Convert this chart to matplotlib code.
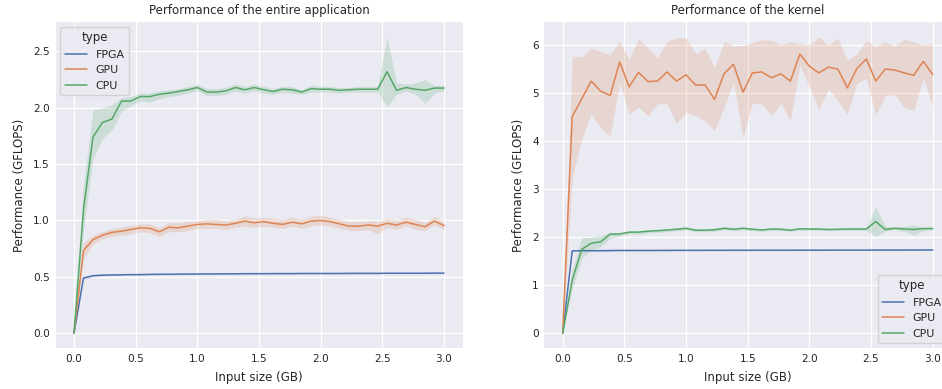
import matplotlib
matplotlib.use("Agg")
import matplotlib.pyplot as plt
import seaborn as sns

sns.set_theme(style="darkgrid")
plt.rcParams['font.family'] = ['DejaVu Sans']

# Input sizes (GB)
input_size = [0.0, 0.077, 0.154, 0.231, 0.308, 0.385, 0.462, 0.538, 0.615, 0.692,
              0.769, 0.846, 0.923, 1.0, 1.077, 1.154, 1.231, 1.308, 1.385, 1.462,
              1.538, 1.615, 1.692, 1.769, 1.846, 1.923, 2.0, 2.077, 2.154, 2.231,
              2.308, 2.385, 2.462, 2.538, 2.615, 2.692, 2.769, 2.846, 2.923, 3.0]

types = ["FPGA", "GPU", "CPU"]
colors = ["#4C72B0", "#DD8452", "#55A868"]

# ---- CPU (same measurements in both panels) ----
cpu_mean = [0, 1.10, 1.74, 1.87, 1.90, 2.06, 2.06, 2.10, 2.10, 2.12,
            2.13, 2.145, 2.16, 2.18, 2.14, 2.14, 2.15, 2.18, 2.16, 2.18,
            2.16, 2.145, 2.165, 2.16, 2.14, 2.17, 2.165, 2.165, 2.155, 2.16,
            2.165, 2.165, 2.165, 2.32, 2.155, 2.18, 2.165, 2.155, 2.175, 2.175]
cpu_low = [0, 0.92, 1.55, 1.73, 1.80, 1.97, 2.02, 2.06, 2.05, 2.08,
           2.10, 2.11, 2.13, 2.15, 2.11, 2.11, 2.12, 2.15, 2.13, 2.15,
           2.13, 2.12, 2.14, 2.13, 2.12, 2.14, 2.14, 2.14, 2.13, 2.14,
           2.14, 2.14, 2.14, 2.01, 2.12, 2.15, 2.12, 2.04, 2.13, 2.15]
cpu_high = [0, 1.32, 1.98, 2.00, 2.03, 2.09, 2.10, 2.13, 2.13, 2.15,
            2.16, 2.17, 2.19, 2.21, 2.17, 2.17, 2.18, 2.21, 2.19, 2.21,
            2.19, 2.17, 2.19, 2.19, 2.16, 2.20, 2.19, 2.19, 2.18, 2.18,
            2.19, 2.19, 2.19, 2.63, 2.22, 2.21, 2.22, 2.25, 2.20, 2.20]

# ---- Entire application: GPU / FPGA ----
app_gpu_mean = [0, 0.735, 0.83, 0.87, 0.895, 0.905, 0.92, 0.935, 0.93, 0.90,
                0.94, 0.935, 0.95, 0.965, 0.97, 0.965, 0.96, 0.975, 0.995, 0.98,
                0.99, 0.975, 0.965, 0.985, 0.97, 0.995, 1.0, 0.99, 0.97, 0.95,
                0.95, 0.96, 0.95, 0.975, 0.96, 0.985, 0.965, 0.945, 0.995, 0.955]
app_gpu_low = [0, 0.66, 0.79, 0.84, 0.86, 0.87, 0.88, 0.90, 0.89, 0.86,
               0.90, 0.90, 0.91, 0.93, 0.93, 0.93, 0.92, 0.94, 0.95, 0.94,
               0.95, 0.94, 0.93, 0.95, 0.93, 0.95, 0.96, 0.95, 0.93, 0.91,
               0.91, 0.92, 0.88, 0.94, 0.92, 0.95, 0.92, 0.91, 0.96, 0.92]
app_gpu_high = [0, 0.80, 0.87, 0.90, 0.93, 0.94, 0.96, 0.97, 0.97, 0.94,
                0.98, 0.98, 0.99, 1.00, 1.01, 1.01, 1.00, 1.01, 1.04, 1.02,
                1.03, 1.02, 1.01, 1.03, 1.01, 1.04, 1.05, 1.03, 1.01, 0.99,
                0.99, 1.00, 0.99, 1.02, 1.00, 1.03, 1.01, 0.98, 1.04, 0.99]
app_fpga_mean = [0, 0.49, 0.51, 0.515, 0.517, 0.518, 0.52, 0.52, 0.522, 0.523,
                 0.523, 0.524, 0.525, 0.525, 0.526, 0.526, 0.527, 0.527, 0.528, 0.528,
                 0.528, 0.529, 0.529, 0.529, 0.53, 0.53, 0.53, 0.53, 0.53, 0.531,
                 0.531, 0.531, 0.531, 0.532, 0.532, 0.532, 0.532, 0.532, 0.533, 0.533]
app_fpga_low = [0, 0.475, 0.50, 0.508, 0.511, 0.512, 0.514, 0.515, 0.516, 0.517,
                0.518, 0.519, 0.52, 0.52, 0.521, 0.521, 0.522, 0.522, 0.523, 0.523,
                0.523, 0.524, 0.524, 0.524, 0.525, 0.525, 0.525, 0.525, 0.525, 0.526,
                0.526, 0.526, 0.526, 0.527, 0.527, 0.527, 0.527, 0.527, 0.528, 0.528]
app_fpga_high = [0, 0.50, 0.518, 0.521, 0.523, 0.524, 0.526, 0.526, 0.528, 0.529,
                 0.529, 0.53, 0.53, 0.531, 0.531, 0.532, 0.532, 0.533, 0.533, 0.534,
                 0.534, 0.534, 0.535, 0.535, 0.535, 0.536, 0.536, 0.536, 0.536, 0.537,
                 0.537, 0.537, 0.537, 0.538, 0.538, 0.538, 0.538, 0.538, 0.539, 0.539]

# ---- Kernel: GPU / FPGA ----
ker_gpu_mean = [0, 4.50, 4.87, 5.24, 5.03, 4.94, 5.64, 5.12, 5.42, 5.23,
                5.24, 5.43, 5.24, 5.37, 5.16, 5.16, 4.86, 5.39, 5.59, 5.01,
                5.41, 5.43, 5.31, 5.39, 5.24, 5.80, 5.55, 5.41, 5.53, 5.49,
                5.10, 5.50, 5.70, 5.24, 5.49, 5.47, 5.41, 5.36, 5.65, 5.38]
ker_gpu_low = [0, 3.22, 4.03, 4.55, 4.26, 4.10, 5.21, 4.55, 4.70, 4.52,
               4.77, 4.77, 4.36, 4.59, 4.52, 4.41, 4.21, 4.69, 5.21, 4.07,
               4.78, 4.76, 4.53, 4.77, 4.42, 5.57, 5.12, 4.65, 5.08, 4.83,
               4.55, 5.19, 5.29, 4.53, 4.94, 4.96, 4.70, 4.63, 5.31, 4.70]
ker_gpu_high = [0, 5.76, 5.74, 5.92, 5.86, 5.79, 6.08, 5.69, 6.12, 5.93,
                5.72, 6.07, 6.14, 6.14, 5.81, 5.92, 5.52, 6.07, 5.97, 5.98,
                6.04, 6.10, 6.09, 5.99, 6.06, 6.02, 5.99, 6.16, 5.99, 6.13,
                5.67, 5.81, 6.09, 5.95, 6.06, 5.97, 6.10, 6.06, 5.99, 6.02]
ker_fpga_mean = [0, 1.71, 1.715, 1.715, 1.715, 1.718, 1.72, 1.72, 1.72, 1.72,
                 1.72, 1.721, 1.722, 1.722, 1.722, 1.723, 1.723, 1.723, 1.724, 1.724,
                 1.724, 1.725, 1.725, 1.725, 1.725, 1.726, 1.726, 1.726, 1.726, 1.727,
                 1.727, 1.727, 1.727, 1.728, 1.728, 1.728, 1.728, 1.729, 1.729, 1.73]
ker_fpga_low = [0, 1.70, 1.705, 1.705, 1.70, 1.695, 1.71, 1.71, 1.71, 1.71,
                1.71, 1.711, 1.712, 1.712, 1.712, 1.713, 1.713, 1.713, 1.714, 1.714,
                1.714, 1.715, 1.715, 1.715, 1.715, 1.716, 1.716, 1.716, 1.716, 1.717,
                1.717, 1.717, 1.717, 1.718, 1.718, 1.718, 1.718, 1.719, 1.719, 1.72]
ker_fpga_high = [0, 1.72, 1.725, 1.725, 1.725, 1.728, 1.73, 1.73, 1.73, 1.73,
                 1.73, 1.731, 1.732, 1.732, 1.732, 1.733, 1.733, 1.733, 1.734, 1.734,
                 1.734, 1.735, 1.735, 1.735, 1.735, 1.736, 1.736, 1.736, 1.736, 1.737,
                 1.737, 1.737, 1.737, 1.738, 1.738, 1.738, 1.738, 1.739, 1.739, 1.74]

titles = ["Performance of the entire application", "Performance of the kernel"]
xlabel = "Input size (GB)"
ylabel = "Performance (GFLOPS)"
xticks = [0.0, 0.5, 1.0, 1.5, 2.0, 2.5, 3.0]
left_yticks = [0.0, 0.5, 1.0, 1.5, 2.0, 2.5]
right_yticks = [0, 1, 2, 3, 4, 5, 6]

W, H = 942, 389
fig = plt.figure(figsize=(W / 100, H / 100), dpi=100)
ax1 = fig.add_axes([55.5 / W, 41 / H, 407 / W, 326 / H])
ax2 = fig.add_axes([544.2 / W, 41 / H, 407 / W, 326 / H])

panels = [
    (ax1, [(app_fpga_mean, app_fpga_low, app_fpga_high),
           (app_gpu_mean, app_gpu_low, app_gpu_high),
           (cpu_mean, cpu_low, cpu_high)], "upper left", left_yticks, "{:.1f}"),
    (ax2, [(ker_fpga_mean, ker_fpga_low, ker_fpga_high),
           (ker_gpu_mean, ker_gpu_low, ker_gpu_high),
           (cpu_mean, cpu_low, cpu_high)], "lower right", right_yticks, "{:d}"),
]

LABEL_FS = 8.5
for ax, series, loc, yt, fmt in panels:
    ax.set_facecolor("#EAEAF2")
    for (m, lo, hi), name, c in zip(series, types, colors):
        ax.fill_between(input_size, lo, hi, color=c, alpha=0.2, linewidth=0)
        ax.plot(input_size, m, color=c, lw=1.1, label=name)
    ax.grid(True, color="white", lw=0.9)
    for s in ax.spines.values():
        s.set_visible(False)
    ax.set_xticks(xticks)
    ax.set_xticklabels(["{:.1f}".format(v) for v in xticks])
    ax.set_yticks(yt)
    ax.set_yticklabels([fmt.format(v) for v in yt])
    ax.tick_params(axis="both", labelsize=7.6, colors=".15", length=0, pad=4)
    ax.set_xlabel(xlabel, fontsize=LABEL_FS, color=".15", labelpad=5)
    ax.set_ylabel(ylabel, fontsize=LABEL_FS, color=".15", labelpad=5)
    leg = ax.legend(title="type", loc=loc, fontsize=7.9, title_fontsize=8.5,
                    frameon=True, fancybox=True, borderaxespad=0.45)
    leg.get_frame().set_facecolor("#EAEAF2")
    leg.get_frame().set_edgecolor("#cccccc")
    leg.get_frame().set_alpha(0.8)

ax1.set_title(titles[0], fontsize=LABEL_FS, color=".15", pad=6)
ax2.set_title(titles[1], fontsize=LABEL_FS, color=".15", pad=6)
ax1.margins(x=0.05, y=0.05)
ax2.margins(x=0.05, y=0.05)

fig.savefig("out.png", dpi=100, facecolor="white")
